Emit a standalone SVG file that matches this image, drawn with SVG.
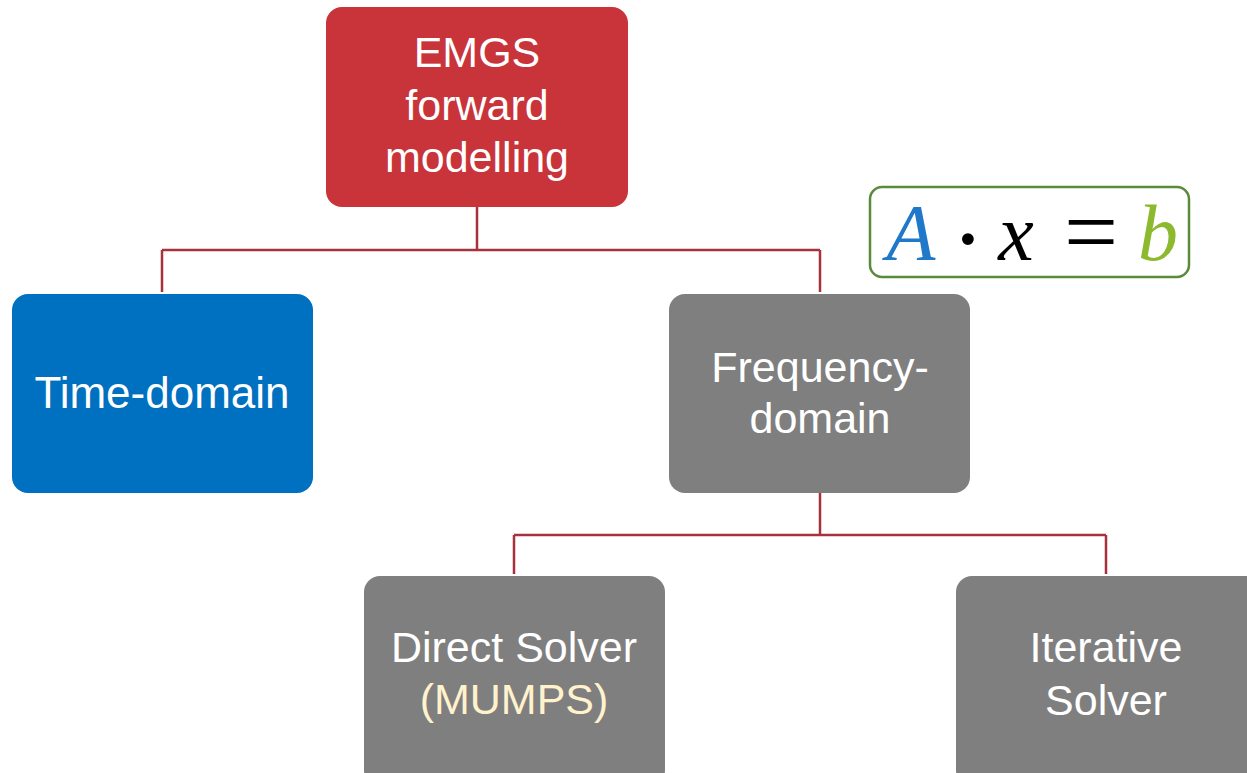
<svg xmlns="http://www.w3.org/2000/svg" width="1247" height="773" viewBox="0 0 1247 773">
<style>
.lbl{font-family:"Liberation Sans",Arial,sans-serif;font-size:43px;fill:#FFFFFF;text-anchor:middle}
.conn{fill:none;stroke:#A7313D;stroke-width:2.5}
.eq{font-family:"Liberation Serif","Times New Roman",serif;font-style:italic;font-size:80px;text-anchor:middle}
</style>
<rect width="1247" height="773" fill="#FFFFFF"/>
<g id="connectors">
<path class="conn" d="M477 207 V250 M162 250 H820 M162 250 V292 M820 250 V292"/>
<path class="conn" d="M820 493 V535 M514 535 H1106 M514 535 V574 M1106 535 V574"/>
</g>
<g id="emgs">
<rect x="326" y="7" width="302" height="200" rx="16" fill="#C9333A"/>
<text class="lbl" x="477" y="67">EMGS</text>
<text class="lbl" x="477" y="120">forward</text>
<text class="lbl" x="477" y="172">modelling</text>
</g>
<g id="time">
<rect x="12" y="294" width="301" height="199" rx="16" fill="#0070C0"/>
<text class="lbl" x="162" y="408" style="font-size:44px">Time-domain</text>
</g>
<g id="freq">
<rect x="669" y="294" width="301" height="199" rx="16" fill="#7F7F7F"/>
<text class="lbl" x="820" y="382">Frequency-</text>
<text class="lbl" x="820" y="433">domain</text>
</g>
<g id="direct">
<rect x="364" y="576" width="301" height="210" rx="16" fill="#7F7F7F"/>
<text class="lbl" x="514" y="662">Direct Solver</text>
<text class="lbl" x="514" y="714" style="fill:#FFF2CC">(MUMPS)</text>
</g>
<g id="iterative">
<rect x="956" y="576" width="310" height="210" rx="16" fill="#7F7F7F"/>
<text class="lbl" x="1106" y="662">Iterative</text>
<text class="lbl" x="1106" y="715">Solver</text>
</g>
<g id="equation">
<rect x="870" y="187" width="319" height="90" rx="12" fill="#FFFFFF" stroke="#5B8B3A" stroke-width="2.5"/>
<text class="eq" x="911" y="260" fill="#1F78C8">A</text>
<text class="eq" x="968" y="272" fill="#000000" style="font-style:normal;font-size:100px">·</text>
<text class="eq" x="1016" y="260" fill="#000000">x</text>
<text class="eq" x="1091" y="264" fill="#000000" style="font-style:normal;font-size:96px">=</text>
<text class="eq" x="1158" y="260" fill="#8DB92E">b</text>
</g>
</svg>
